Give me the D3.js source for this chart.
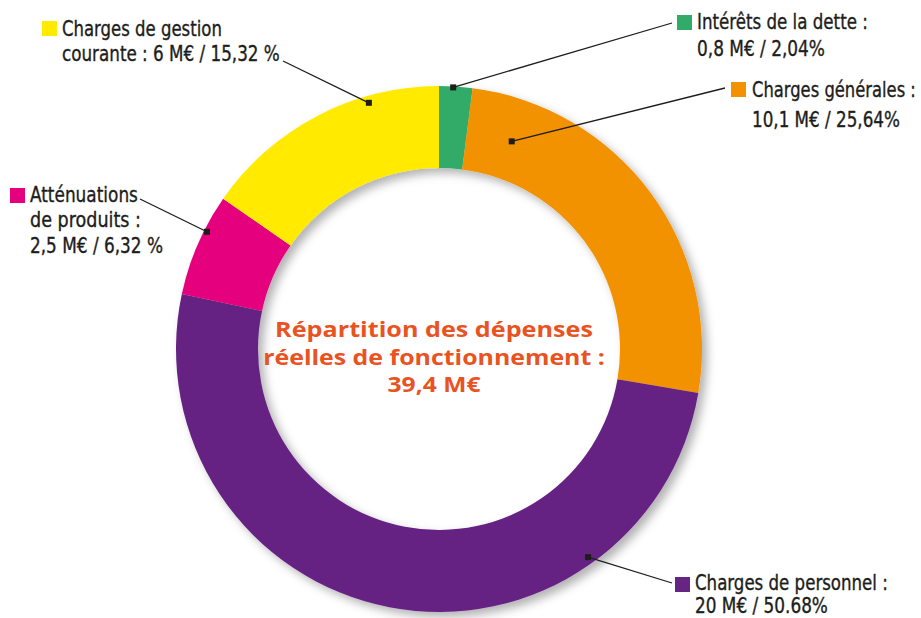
<!DOCTYPE html>
<html>
<head>
<meta charset="utf-8">
<script src="https://d3js.org/d3.v7.min.js"></script>
<style>
  body { margin: 0; background: #fff; }
  .lbl { font-family: "Liberation Sans Narrow", "DejaVu Sans Condensed", "Roboto", sans-serif; font-size: 22px; fill: #1d1d1b; stroke: #1d1d1b; stroke-width: 0.35px; }
  .lbl.small { font-size: 21px; }
  .title { font-family: "Open Sans", "Lato", sans-serif; font-size: 21px; font-weight: 700; fill: #e8531f; }
</style>
</head>
<body>
<svg id="chart" width="921" height="618"></svg>
<script>
// data
const categories = ["Intérêts de la dette", "Charges générales", "Charges de personnel", "Atténuations de produits", "Charges de gestion courante"];
const amounts = [0.8, 10.1, 20, 2.5, 6];          // M€
const shares = [2.04, 25.64, 50.68, 6.32, 15.32];  // %
const colors = ["#30ab69", "#f39200", "#662483", "#e5007e", "#ffea00"];
const labelLines = [
  ["Intérêts de la dette :", "0,8 M€ / 2,04%"],
  ["Charges générales :", "10,1 M€ / 25,64%"],
  ["Charges de personnel :", "20 M€ / 50.68%"],
  ["Atténuations", "de produits :", "2,5 M€ / 6,32 %"],
  ["Charges de gestion", "courante : 6 M€ / 15,32 %"]
];
const titleLines = ["Répartition des dépenses", "réelles de fonctionnement :", "39,4 M€"];

// layout (label boxes, leader anchors)
const labelLayout = [
  { x: 697, y: [29, 56], w: [171, 128], sq: [677, 15], line: [672, 23], dot: [3.1, 262] },
  { x: 752, y: [97, 127], w: [164, 148], sq: [731, 82], line: [725, 88], dot: [19.3, 220] },
  { x: 695, y: [590, 613], w: [193, 133], sq: [675, 577], line: [672, 583], dot: [144.4, 256], small: true },
  { x: 30, y: [202, 227, 253], w: [108, 111, 133], sq: [10, 188], line: [140, 199], dot: [296.8, 260] },
  { x: 62, y: [36, 61], w: [160, 218], sq: [42, 21], line: [283, 61], dot: [344.1, 256] }
];

const svg = d3.select("#chart");
const cx = 439, cy = 349, outerR = 263, innerR = 181;

const defs = svg.append("defs");
defs.append("filter").attr("id", "shadow")
  .attr("x", "-10%").attr("y", "-10%").attr("width", "125%").attr("height", "125%")
  .append("feDropShadow")
  .attr("dx", 5).attr("dy", 5).attr("stdDeviation", 5)
  .attr("flood-color", "#000").attr("flood-opacity", 0.3);

const pie = d3.pie().sort(null).value(d => d.share);
const arc = d3.arc().innerRadius(innerR).outerRadius(outerR);
const data = categories.map((c, i) => ({ cat: c, amount: amounts[i], share: shares[i], color: colors[i] }));

const donut = svg.append("g")
  .attr("transform", `translate(${cx},${cy})`)
  .attr("filter", "url(#shadow)");

donut.selectAll("path")
  .data(pie(data))
  .join("path")
  .attr("d", arc)
  .attr("fill", d => d.data.color);

// squeeze a text horizontally to a given width
function fitText(sel, x, y, w, anchor) {
  sel.attr("text-anchor", anchor || "start");
  const natural = sel.node().getComputedTextLength();
  const sx = natural > 0 ? w / natural : 1;
  sel.attr("transform", `translate(${x},${y}) scale(${sx},1)`);
}

// leader lines + labels
const ann = svg.append("g");
labelLayout.forEach((L, i) => {
  const p = d3.pointRadial(L.dot[0] * Math.PI / 180, L.dot[1]);
  const px = cx + p[0], py = cy + p[1];
  ann.append("line")
    .attr("x1", L.line[0]).attr("y1", L.line[1])
    .attr("x2", px).attr("y2", py)
    .attr("stroke", "#1d1d1b").attr("stroke-width", 1.3);
  ann.append("rect")
    .attr("x", px - 3).attr("y", py - 3)
    .attr("width", 6).attr("height", 6)
    .attr("fill", "#1d1d1b");
  ann.append("rect")
    .attr("x", L.sq[0]).attr("y", L.sq[1])
    .attr("width", 15).attr("height", 15)
    .attr("fill", colors[i]);
  labelLines[i].forEach((t, j) => {
    const txt = ann.append("text")
      .attr("class", L.small ? "lbl small" : "lbl")
      .text(t);
    fitText(txt, L.x, L.y[j], L.w[j]);
  });
});

// centre title
const titleW = [318, 342, 93];
const titleY = [337, 365, 392];
titleLines.forEach((t, j) => {
  const txt = svg.append("text").attr("class", "title").text(t);
  fitText(txt, 434, titleY[j], titleW[j], "middle");
});
</script>
</body>
</html>
